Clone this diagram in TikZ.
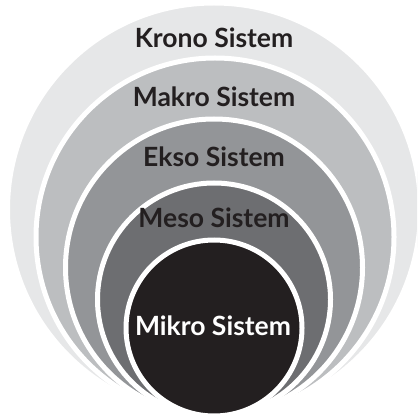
\documentclass[tikz,border=0pt]{standalone}
\usepackage{fontspec}
\setmainfont{Lato}
\definecolor{cKrono}{HTML}{E6E7E8}
\definecolor{cMakro}{HTML}{BCBEC0}
\definecolor{cEkso}{HTML}{939598}
\definecolor{cMeso}{HTML}{6D6E71}
\definecolor{cMikro}{HTML}{231F20}
\begin{document}
\begin{tikzpicture}[x=1pt,y=-1pt,
  ring/.style={draw=white,line width=5pt},
  lbl/.style={font=\fontsize{26.5}{30}\selectfont\bfseries,text=cMikro,inner sep=0pt}]
\useasboundingbox (0,0) rectangle (417,419);
\begin{scope}
\clip (0,0) rectangle (417,419);
\path[ring,fill=cKrono] (214,209.5) circle[radius=206.5];
\path[ring,fill=cMakro] (215,237) circle[radius=179];
\path[ring,fill=cEkso] (214,267.5) circle[radius=148.5];
\path[ring,fill=cMeso] (214,299.5) circle[radius=116.5];
\path[ring,fill=cMikro] (214,328) circle[radius=88];
\end{scope}
\node[lbl] (krono) at (214,38) {Krono Sistem};
\node[lbl] (makro) at (214,97) {Makro Sistem};
\node[lbl] (ekso) at (214,157) {Ekso Sistem};
\node[lbl] (meso) at (214,218) {Meso Sistem};
\node[lbl,text=white] (mikro) at (213,326) {Mikro Sistem};
\end{tikzpicture}
\end{document}
